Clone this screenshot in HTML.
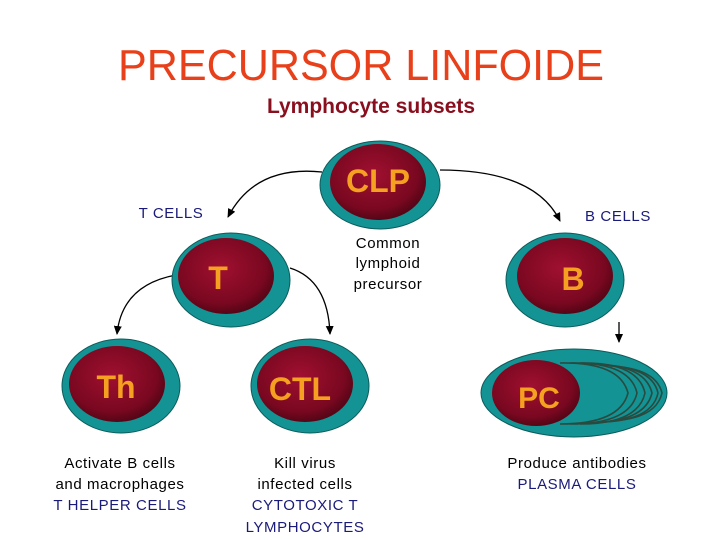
<!DOCTYPE html><html><head><style>body{margin:0;background:#fff}svg{display:block}</style></head><body>
<svg width="720" height="540" viewBox="0 0 720 540" font-family="Liberation Sans, sans-serif">
<defs>
<radialGradient id="r" cx="0.45" cy="0.4" r="0.65"><stop offset="0" stop-color="#a01030"/><stop offset="0.7" stop-color="#7a0820"/><stop offset="1" stop-color="#4a0414"/></radialGradient>
<marker id="a" markerWidth="9" markerHeight="8" refX="8" refY="4" orient="auto" markerUnits="userSpaceOnUse"><path d="M0,0 L9,4 L0,8z" fill="#000"/></marker>
</defs>
<text x="361" y="80" text-anchor="middle" font-family="Liberation Sans Narrow, Liberation Sans, sans-serif" font-size="44" fill="#e8401a" textLength="486" lengthAdjust="spacingAndGlyphs">PRECURSOR LINFOIDE</text>
<text x="371" y="113" text-anchor="middle" font-size="21" font-weight="bold" fill="#8a0f1e">Lymphocyte subsets</text>
<g fill="none" stroke="#000" stroke-width="1.3">
<path d="M322,172 Q255,165 228,217" marker-end="url(#a)"/>
<path d="M440,170 Q535,170 560,221" marker-end="url(#a)"/>
<path d="M176,275 Q122,285 117,334" marker-end="url(#a)"/>
<path d="M290,268 Q328,280 330,334" marker-end="url(#a)"/>
<path d="M619,322 L619,342" marker-end="url(#a)"/>
</g>
<g stroke="#0d5a5a" stroke-width="1">
<ellipse cx="380" cy="185" rx="60" ry="44" fill="#139393"/>
<ellipse cx="378" cy="182" rx="48" ry="38" fill="url(#r)" stroke="none"/>
<ellipse cx="231" cy="280" rx="59" ry="47" fill="#139393"/>
<ellipse cx="226" cy="276" rx="48" ry="38" fill="url(#r)" stroke="none"/>
<ellipse cx="565" cy="280" rx="59" ry="47" fill="#139393"/>
<ellipse cx="565" cy="276" rx="48" ry="38" fill="url(#r)" stroke="none"/>
<ellipse cx="121" cy="386" rx="59" ry="47" fill="#139393"/>
<ellipse cx="117" cy="384" rx="48" ry="38" fill="url(#r)" stroke="none"/>
<ellipse cx="310" cy="386" rx="59" ry="47" fill="#139393"/>
<ellipse cx="305" cy="384" rx="48" ry="38" fill="url(#r)" stroke="none"/>
<ellipse cx="574" cy="393" rx="93" ry="44" fill="#139393"/>
</g>
<g fill="none" stroke="#2a4a40" stroke-width="1.6">
<path d="M560,363 Q620,362 628,393 Q620,424 560,424"/>
<path d="M570,363 Q630,362 637,393 Q630,424 570,424"/>
<path d="M580,363 Q638,362 645,393 Q638,424 580,424"/>
<path d="M590,364 Q645,364 652,393 Q645,422 590,423"/>
<path d="M600,365 Q652,366 658,393 Q652,421 600,422"/>
<path d="M610,366 Q656,368 662,393 Q656,419 610,421"/>
</g>
<ellipse cx="536" cy="393" rx="44" ry="33" fill="url(#r)"/>
<g fill="#f5a020" font-weight="bold" text-anchor="middle">
<text x="378" y="192" font-size="32">CLP</text>
<text x="218" y="289" font-size="32">T</text>
<text x="573" y="290" font-size="32">B</text>
<text x="116" y="398" font-size="32">Th</text>
<text x="300" y="400" font-size="32">CTL</text>
<text x="539" y="408" font-size="30">PC</text>
</g>
<g font-size="15" text-anchor="middle" letter-spacing="0.6">
<text x="171" y="218" fill="#1a1a7a">T CELLS</text>
<text x="618" y="221" fill="#1a1a7a">B CELLS</text>
<text x="388" y="248">Common</text><text x="388" y="268">lymphoid</text><text x="388" y="289">precursor</text>
<text x="120" y="468">Activate B cells</text><text x="120" y="489">and macrophages</text><text x="120" y="510" fill="#1a1a7a">T HELPER CELLS</text>
<text x="305" y="468">Kill virus</text><text x="305" y="489">infected cells</text><text x="305" y="510" fill="#1a1a7a">CYTOTOXIC T</text><text x="305" y="532" fill="#1a1a7a">LYMPHOCYTES</text>
<text x="577" y="468">Produce antibodies</text><text x="577" y="489" fill="#1a1a7a">PLASMA CELLS</text>
</g>
</svg></body></html>
